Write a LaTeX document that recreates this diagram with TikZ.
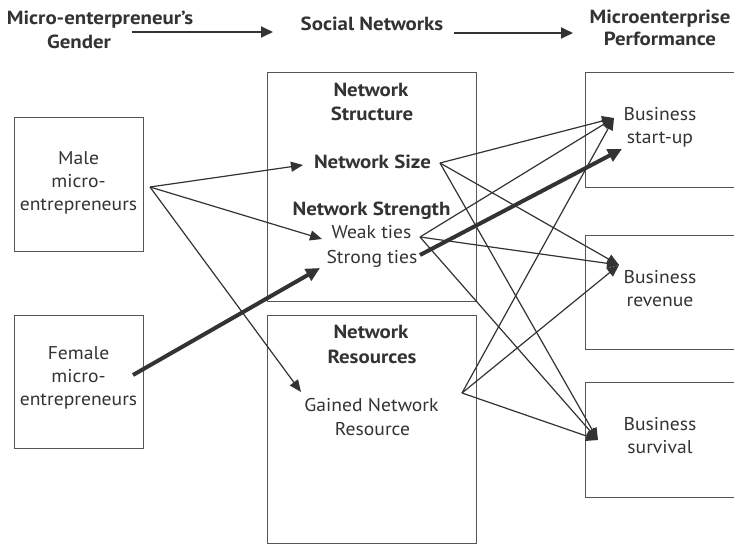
\documentclass[tikz,border=0pt]{standalone}
\usepackage{fontspec}
\setmainfont{PT Sans}[FakeStretch=1.06, BoldFeatures={FakeStretch=1.1}]
\usetikzlibrary{arrows.meta}
\definecolor{ink}{HTML}{333333}
\definecolor{frame}{HTML}{555555}
\begin{document}
\begin{tikzpicture}[x=1pt,y=-1pt,
  every node/.style={text=ink, font=\fontsize{18.5}{23}\selectfont, align=center, inner sep=0pt},
  hd/.style={font=\fontsize{19}{23}\selectfont\bfseries},
  bx/.style={draw=frame, line width=0.9pt},
  ln/.style={draw=ink, line width=1.2pt, -{Triangle[length=12pt,width=10pt]}},
  thk/.style={draw=ink, line width=4pt, -{Triangle[length=14pt,width=13pt]}},
  top/.style={draw=ink, line width=1.8pt, -{Triangle[length=12pt,width=11pt]}}
]
\clip (0,0) rectangle (734,544);
\fill[white] (0,0) rectangle (734,544);

% boxes
\node[bx, minimum width=129pt, minimum height=134pt] (malebox) at (78.5,184) {};
\node[bx, minimum width=129pt, minimum height=133pt] (fembox) at (78.5,381.5) {};
\draw[bx] (267,72) rectangle (476,301);
\draw[bx] (267,315) rectangle (476,543);
\draw[bx] (585,72) rectangle (760,187);
\draw[bx] (585,235) rectangle (760,349);
\draw[bx] (585,382) rectangle (760,497);

% header texts
\node[hd, anchor=base] (hgen1) at (100,24.5) {Micro-enterpreneur’s};
\node[hd, anchor=base] (hgen2) at (79,48) {Gender};
\node[hd, anchor=base] (hsoc) at (372,30) {Social Networks};
\node[hd, anchor=base] (hperf1) at (660,23) {Microenterprise};
\node[hd, anchor=base] (hperf2) at (660,45.5) {Performance};

% left texts
\node (male) at (78.5,183) {Male\\micro-\\entrepreneurs};
\node (female) at (78.5,378) {Female\\micro-\\entrepreneurs};

% network structure texts
\node[hd, anchor=base] (ns1) at (371,96) {Network};
\node[hd, anchor=base] (ns2) at (372,120) {Structure};
\node[hd, anchor=base] (size) at (372.5,168) {Network Size};
\node[hd, anchor=base] (strength) at (371.5,215) {Network Strength};
\node[anchor=base] (weak) at (371.5,238) {Weak ties};
\node[anchor=base] (strong) at (372,263) {Strong ties};

% network resources texts
\node[hd, anchor=base] (nr1) at (371,338) {Network};
\node[hd, anchor=base] (nr2) at (372,363) {Resources};
\node[anchor=base] (gain1) at (371.5,411) {Gained Network};
\node[anchor=base] (gain2) at (372.5,435) {Resource};

% right texts
\node (startup) at (660,127) {Business\\start-up};
\node (revenue) at (660,289) {Business\\revenue};
\node (survival) at (660,436) {Business\\survival};

% connector ends
\coordinate (maleO) at (150,187);
\coordinate (femO) at (133,375);
\coordinate (sizeI) at (303,165);
\coordinate (weakI) at (322,239);
\coordinate (strongI) at (320,268);
\coordinate (gainI) at (301,392);
\coordinate (sizeO) at (440,163);
\coordinate (weakO) at (420,237);
\coordinate (strongO) at (420,255);
\coordinate (gainO) at (462,393);
\coordinate (startI) at (614,118);
\coordinate (startT) at (622,149);
\coordinate (revI) at (619,265);
\coordinate (survI) at (598,440);
\coordinate (h1a) at (132,32);
\coordinate (h1b) at (273,32);
\coordinate (h2a) at (454,33);
\coordinate (h2b) at (573,33);

% header arrows
\draw[top] (h1a) -- (h1b);
\draw[top] (h2a) -- (h2b);

% gender to networks
\draw[ln] (maleO) -- (sizeI);
\draw[ln] (maleO) -- (weakI);
\draw[ln] (maleO) -- (gainI);
\draw[thk] (femO) -- (strongI);

% networks to performance
\draw[ln] (sizeO) -- (startI);
\draw[ln] (sizeO) -- (revI);
\draw[ln] (sizeO) -- (survI);
\draw[ln] (weakO) -- (startI);
\draw[ln] (weakO) -- (revI);
\draw[ln] (weakO) -- (survI);
\draw[ln] (gainO) -- (startI);
\draw[ln] (gainO) -- (revI);
\draw[ln] (gainO) -- (survI);
\draw[thk] (strongO) -- (startT);
\end{tikzpicture}
\end{document}
